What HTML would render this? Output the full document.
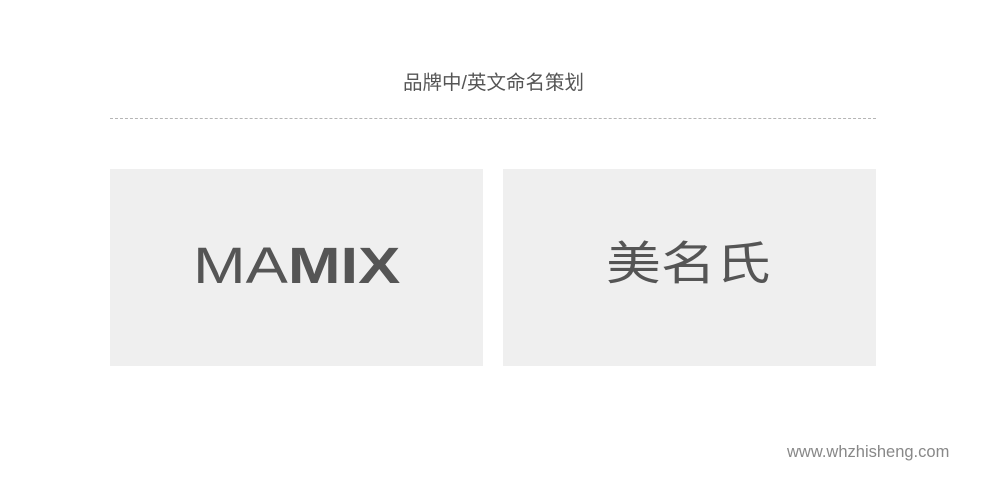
<!DOCTYPE html>
<html><head><meta charset="utf-8"><style>
html,body{margin:0;padding:0;background:#fff;}
body{width:987px;height:491px;position:relative;overflow:hidden;font-family:"Liberation Sans","Noto Sans CJK SC",sans-serif;}
.t{position:absolute;left:0;width:987px;top:66px;text-align:center;font-size:19.5px;color:#555;}
.line{position:absolute;left:110px;width:766px;top:118px;border-top:1px dashed #b5b5b5;}
.box{position:absolute;top:169px;height:197px;width:373px;background:#efefef;}
.m{position:absolute;left:193px;top:240px;font-size:51px;color:#555;line-height:51px;white-space:nowrap;transform:scaleX(1.24);transform-origin:left top;}
.c{position:absolute;left:606px;top:232px;font-family:"Noto Sans CJK SC",sans-serif;font-weight:400;font-size:56px;color:#555;line-height:70px;white-space:nowrap;transform:scale(0.98,0.82);transform-origin:left top;}
.f{position:absolute;left:787px;top:443px;font-size:16.5px;color:#888;}
</style></head><body>
<div class="t">品牌中/英文命名策划</div>
<div class="line"></div>
<div class="box" style="left:110px"></div>
<div class="box" style="left:503px"></div>
<div class="m">MA<b>MIX</b></div>
<div class="c">美名氏</div>
<div class="f">www.whzhisheng.com</div>
</body></html>
